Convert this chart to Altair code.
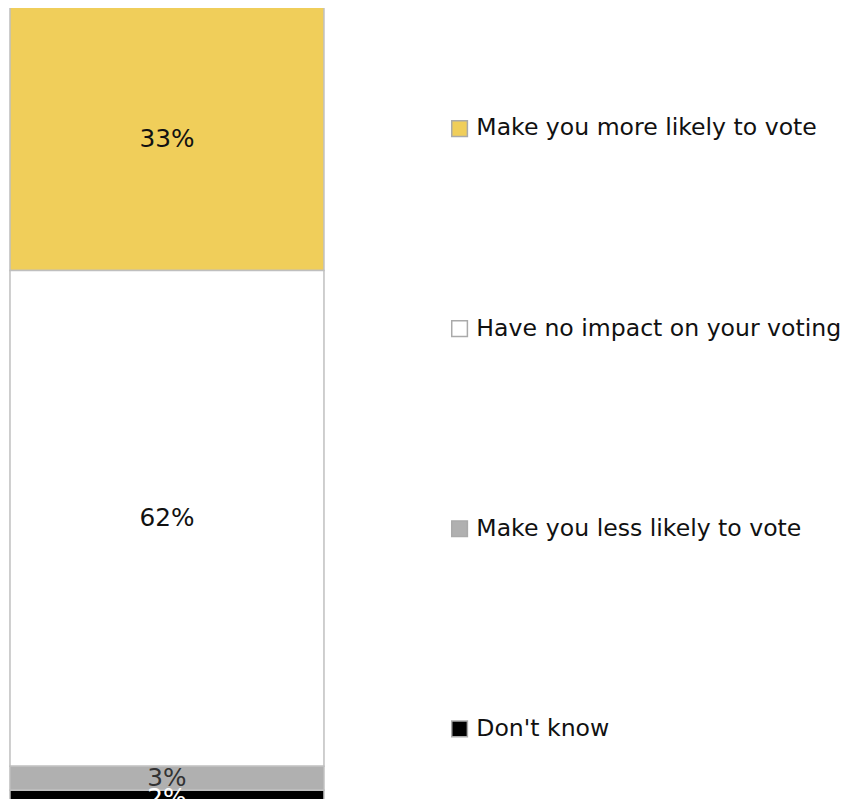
import altair as alt
import pandas as pd

categories = ["Make you more likely to vote", "Have no impact on your voting",
              "Make you less likely to vote", "Don't know"]
values = [33, 62, 3, 2]
labels = ["33%", "62%", "3%", "2%"]
colors = ["#F0CE5A", "#FFFFFF", "#B0B0B0", "#000000"]
text_colors = ["#111111", "#111111", "#333333", "#FFFFFF"]

df = pd.DataFrame({
    "group": ["All"] * 4,
    "category": categories,
    "value": values,
    "label": labels,
    "order": list(range(4)),
    "tcolor": text_colors,
})

FONT = "DejaVu Sans"

base = alt.Chart(df).transform_window(
    end="sum(value)", sort=[alt.SortField("order")], frame=[None, 0]
).transform_calculate(
    start="datum.end - datum.value",
    mid="(datum.start + datum.end) / 2",
)

x_enc = alt.X("group:N", axis=None,
              scale=alt.Scale(range=[2, 319], paddingInner=0, paddingOuter=0))
y_scale = alt.Scale(domain=[0, 100], range=[-5, 802])

bars = base.mark_bar(stroke="#BFBFBF", strokeWidth=1.5).encode(
    x=x_enc,
    y=alt.Y("start:Q", axis=None, scale=y_scale),
    y2="end:Q",
    color=alt.Color(
        "category:N",
        scale=alt.Scale(domain=categories, range=colors),
        legend=alt.Legend(
            title=None, orient="none", legendX=444, legendY=106,
            symbolType="square", symbolSize=250, symbolStrokeColor="#AAAAAA",
            symbolStrokeWidth=1.5, labelFont=FONT, labelFontSize=23.8,
            labelColor="#111111", rowPadding=177, labelOffset=5,
            labelLimit=420, direction="vertical",
        ),
    ),
)

texts = base.mark_text(font=FONT, fontSize=25, baseline="middle").encode(
    x=x_enc,
    y=alt.Y("mid:Q", scale=y_scale),
    text="label:N",
    color=alt.Color("tcolor:N", scale=None),
)

chart = alt.layer(bars, texts).properties(
    width=842, height=796, autosize="none", padding=0
).configure_view(stroke=None)

chart.save("out.html", embed_options={"renderer": "svg", "actions": False})
